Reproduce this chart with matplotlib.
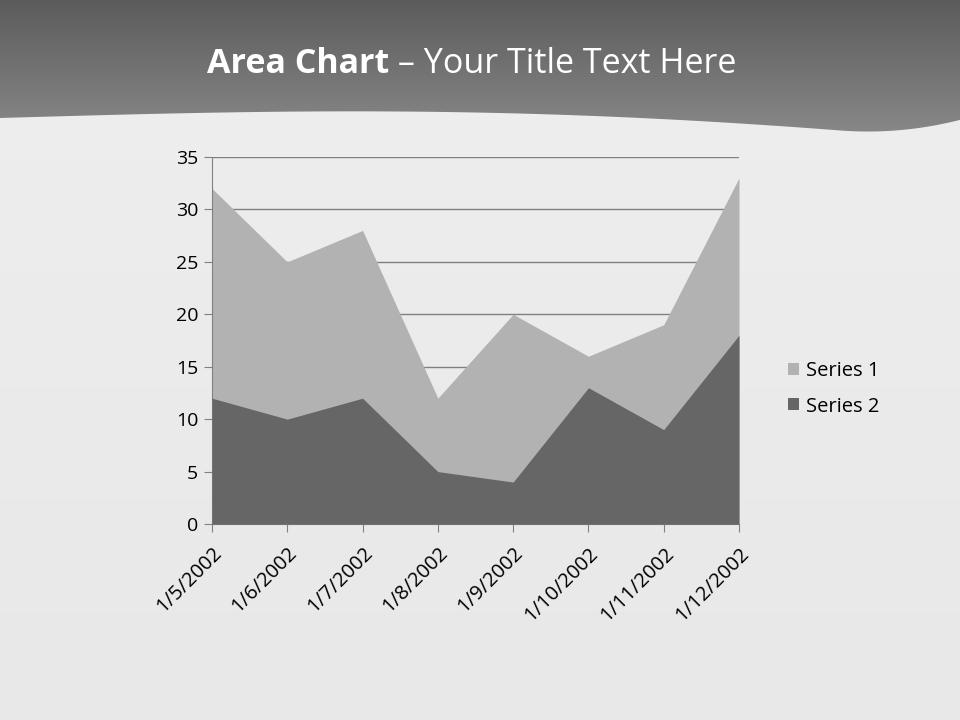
import numpy as np
import matplotlib.pyplot as plt
from matplotlib.patches import Polygon

dates = ["1/5/2002", "1/6/2002", "1/7/2002", "1/8/2002",
         "1/9/2002", "1/10/2002", "1/11/2002", "1/12/2002"]
series1 = [32, 25, 28, 12, 20, 16, 19, 33]
series2 = [12, 10, 12, 5, 4, 13, 9, 18]
yticks = [0, 5, 10, 15, 20, 25, 30, 35]

FONT = "Open Sans"

fig = plt.figure(figsize=(9.6, 7.2), dpi=100)
fig.patch.set_facecolor("#e9e9e9")

# background layer in pixel coordinates
bg = fig.add_axes([0, 0, 1, 1], zorder=0)
bg.set_xlim(0, 960)
bg.set_ylim(720, 0)
bg.axis("off")

# light background: soft vertical gradient
grad = np.linspace(0, 1, 256).reshape(-1, 1)
bg.imshow(np.dstack([0.935 - 0.025 * grad] * 3), extent=[0, 960, 720, 0], aspect="auto")

# dark header band with wavy bottom edge
xs = np.linspace(0, 960, 200)
edge = 118 - 8 * np.sin(xs / 960 * np.pi * 1.1) + 20 * (xs / 960) ** 3
edge = np.where(xs > 840, edge - (xs - 840) ** 2 / 700, edge)
hdr = np.linspace(0, 1, 256).reshape(-1, 1)
hdr_img = np.dstack([0.36 + 0.18 * hdr] * 3)
im = bg.imshow(hdr_img, extent=[0, 960, 140, 0], aspect="auto", zorder=1)
clip = Polygon(np.column_stack([np.r_[xs, 960, 0], np.r_[edge, 0, 0]]),
               closed=True, transform=bg.transData, facecolor="none", edgecolor="none")
bg.add_patch(clip)
im.set_clip_path(clip)

# title: bold part + regular part
t1 = fig.text(207 / 960, 1 - 64 / 720, "Area Chart", color="white", fontsize=24.5,
              fontweight="bold", family=FONT, ha="left", va="center")
fig.canvas.draw()
bb = t1.get_window_extent()
fig.text(bb.x1 / 960, 1 - 64 / 720, " – Your Title Text Here", color="white",
         fontsize=24.5, family=FONT, ha="left", va="center")

# chart
ax = fig.add_axes([212 / 960, 1 - 524 / 720, 527 / 960, 367 / 720], zorder=2)
ax.patch.set_alpha(0)
x = np.arange(len(dates))
ax.fill_between(x, 0, series1, color="#b2b2b2", linewidth=0, label="Series 1", zorder=2)
ax.fill_between(x, 0, series2, color="#666666", linewidth=0, label="Series 2", zorder=3)

ax.set_xlim(0, len(dates) - 1)
ax.set_ylim(0, 35)
ax.set_yticks(yticks)
ax.set_xticks(x)
ax.set_xticklabels(dates, rotation=45, ha="right", rotation_mode="anchor",
                   fontsize=14.5, family=FONT)
ax.set_yticklabels([str(v) for v in yticks], fontsize=14, family=FONT)
ax.grid(axis="y", color="#808080", linewidth=1)
ax.set_axisbelow(True)
for s in ["top", "right"]:
    ax.spines[s].set_visible(False)
ax.spines["left"].set_color("#808080")
ax.spines["bottom"].set_color("#808080")
ax.tick_params(axis="both", color="#808080", length=6, pad=4)
ax.tick_params(axis="x", pad=8)

fig.legend(loc="center left", bbox_to_anchor=(770 / 960, 1 - 389 / 720), frameon=False,
           prop={"family": FONT, "size": 14.5}, handlelength=0.55,
           handleheight=0.55, handletextpad=0.35, labelspacing=0.75)

fig.savefig("out.png", dpi=100, facecolor=fig.get_facecolor())
